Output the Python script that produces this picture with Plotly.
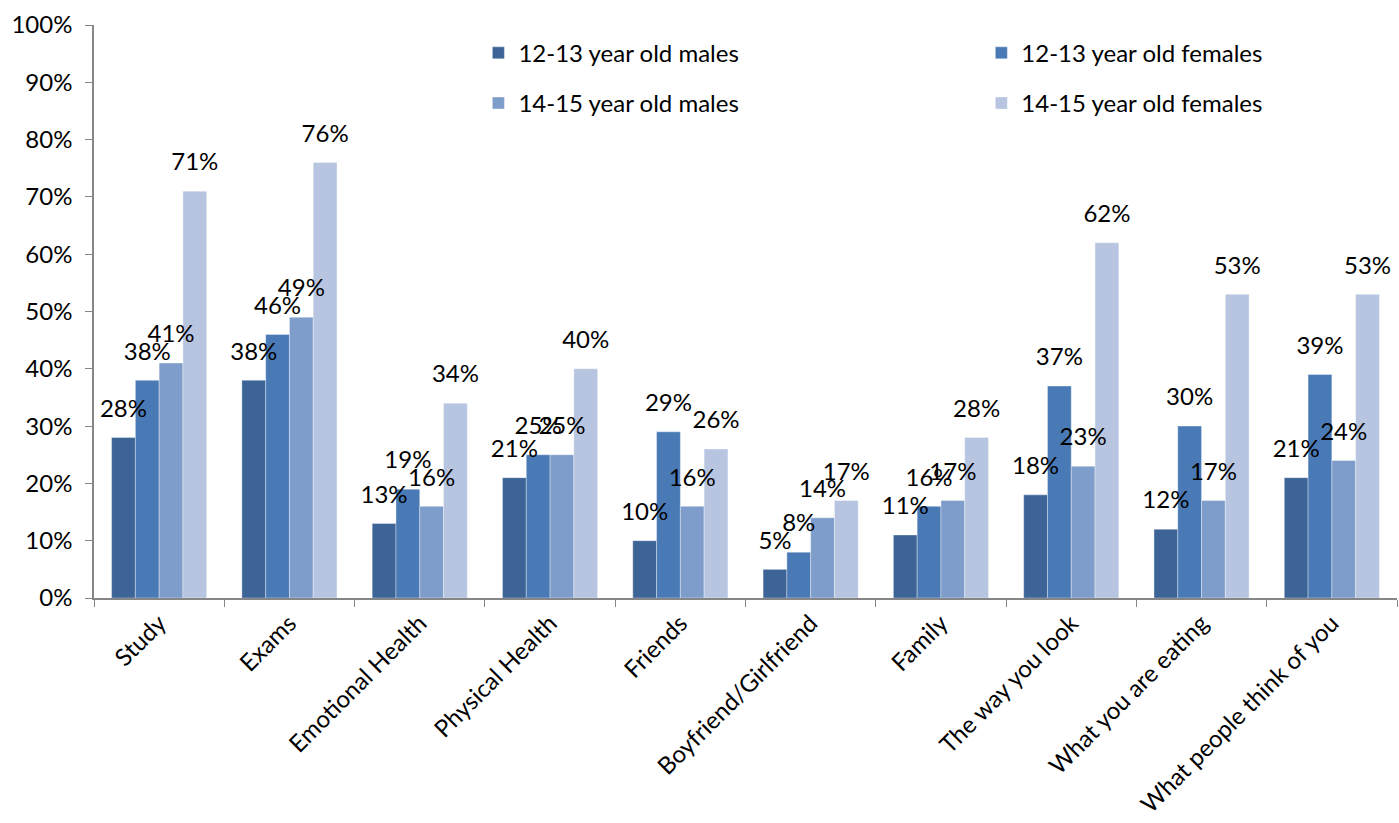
import plotly.graph_objects as go

categories = ["Study", "Exams", "Emotional Health", "Physical Health", "Friends",
              "Boyfriend/Girlfriend", "Family", "The way you look",
              "What you are eating", "What people think of you"]
series_names = ["12-13 year old males", "12-13 year old females",
                "14-15 year old males", "14-15 year old females"]
males_12_13 = [28, 38, 13, 21, 10, 5, 11, 18, 12, 21]
females_12_13 = [38, 46, 19, 25, 29, 8, 16, 37, 30, 39]
males_14_15 = [41, 49, 16, 25, 16, 14, 17, 23, 17, 24]
females_14_15 = [71, 76, 34, 40, 26, 17, 28, 62, 53, 53]
colors = ["#3D6496", "#4A7AB5", "#7F9DCA", "#B7C5E0"]
legend_ids = ["legend", "legend2", "legend", "legend2"]

font_family = "Lato, 'Open Sans', sans-serif"
fs = 24
fig = go.Figure()
all_vals = [males_12_13, females_12_13, males_14_15, females_14_15]
for i, (name, vals, col) in enumerate(zip(series_names, all_vals, colors)):
    fig.add_trace(go.Bar(
        x=categories, y=vals, name=name, legend=legend_ids[i], legendgroup=name,
        offsetgroup=str(i), alignmentgroup="a",
        marker=dict(color=col, line=dict(color="rgba(255,255,255,0.35)", width=1)),
    ))
for i, (name, vals) in enumerate(zip(series_names, all_vals)):
    fig.add_trace(go.Scatter(
        x=categories, y=vals, name=name, showlegend=False, legendgroup=name,
        offsetgroup=str(i), alignmentgroup="a",
        mode="markers+text", marker=dict(size=22, opacity=0),
        text=[f"{v}%" for v in vals], textposition="top center", cliponaxis=False,
        textfont=dict(size=fs, color="#000000", family=font_family),
        hoverinfo="skip",
    ))

legend_common = dict(orientation="v", yanchor="top", xanchor="left",
                     font=dict(size=fs, family=font_family, color="#000000"),
                     bgcolor="rgba(0,0,0,0)", itemwidth=30, tracegroupgap=16)

fig.update_layout(
    width=1399, height=823,
    margin=dict(l=94, r=2, t=25, b=225),
    plot_bgcolor="white", paper_bgcolor="white",
    barmode="group", bargap=0.27, bargroupgap=0,
    scattermode="group", scattergap=0.27,
    font=dict(family=font_family, size=fs, color="#000000"),
    showlegend=True,
    legend=dict(x=0.295, y=0.99, **legend_common),
    legend2=dict(x=0.681, y=0.99, **legend_common),
    xaxis=dict(showline=True, linecolor="#868686", linewidth=1.5,
               ticks="outside", ticklen=7, tickcolor="#868686", tickson="boundaries",
               tickangle=-45, tickfont=dict(size=fs, family=font_family)),
    yaxis=dict(range=[0, 100], tickvals=list(range(0, 101, 10)),
               ticktext=[f"{v}%" for v in range(0, 101, 10)],
               showline=True, linecolor="#868686", linewidth=1.5,
               ticks="outside", ticklen=7, tickcolor="#868686",
               ticklabelstandoff=8,
               showgrid=False, zeroline=False,
               tickfont=dict(size=fs, family=font_family)),
)
fig.write_html("out.html")
